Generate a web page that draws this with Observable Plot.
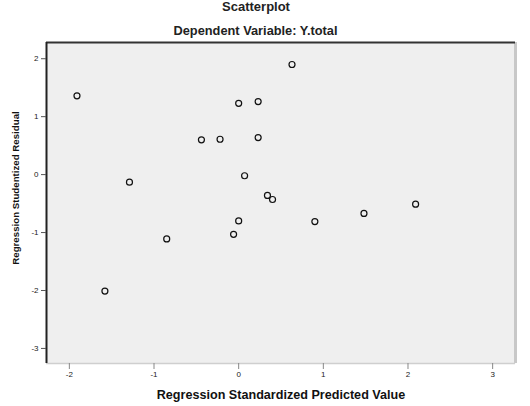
<!DOCTYPE html>
<html>
<head>
<meta charset="utf-8">
<script src="https://cdn.jsdelivr.net/npm/d3@7"></script>
<script src="https://cdn.jsdelivr.net/npm/@observablehq/plot@0.6"></script>
<style>
  html, body { margin: 0; padding: 0; background: #fff; }
  #wrap { width: 530px; height: 406px; position: relative; font-family: "Liberation Sans", Arial, sans-serif; color: #111; }
  #head { position: relative; height: 38px; width: 530px; }
  #title { position: absolute; left: 0; top: 0; width: 512px; text-align: center; font-size: 13px; font-weight: bold; line-height: 14px; color: #222; }
  #subtitle { position: absolute; left: 0; top: 24px; width: 511px; text-align: center; font-size: 12.8px; font-weight: bold; line-height: 14px; color: #222; }
  svg { display: block; }
</style>
</head>
<body>
<div id="wrap">
  <div id="head">
    <div id="title">Scatterplot</div>
    <div id="subtitle">Dependent Variable: Y.total</div>
  </div>
  <div id="chart"></div>
</div>
<script>
// Regression standardized predicted value (x) and studentized residual (y)
const predicted = [-1.91, 0.63, 0.00, 0.23, -0.44, -0.22, 0.23, -1.29, 0.07, 0.34, 0.40, 0.00, -0.06, -0.85, 0.90, 1.48, 2.09, -1.58];
const residual  = [1.36, 1.90, 1.23, 1.26, 0.60, 0.61, 0.64, -0.13, -0.02, -0.36, -0.43, -0.80, -1.03, -1.11, -0.81, -0.67, -0.51, -2.01];
const xTicks = [-2, -1, 0, 1, 2, 3];
const yTicks = [2, 1, 0, -1, -2, -3];
const xDomain = [-2.27, 3.27];
const yDomain = [-3.26, 2.28];
const xTitle = "Regression Standardized Predicted Value";
const yTitle = "Regression Studentized Residual";

const points = predicted.map((x, i) => ({x, y: residual[i]}));
const fmt = d => String(d);

const chart = Plot.plot({
  width: 530,
  height: 368,
  marginTop: 4,
  marginBottom: 43,
  marginLeft: 46,
  marginRight: 15,
  style: {fontFamily: "Liberation Sans, Arial, sans-serif", fontSize: "8px", background: "transparent", overflow: "visible"},
  x: {domain: xDomain},
  y: {domain: yDomain},
  marks: [
    Plot.frame({fill: "#efefef", stroke: null}),
    Plot.ruleX([xDomain[1]], {stroke: "#c8c8c8", strokeWidth: 3}),
    Plot.ruleY([yDomain[0]], {stroke: "#cfcfcf", strokeWidth: 1.5}),
    Plot.ruleY([yDomain[1]], {stroke: "#333", strokeWidth: 2}),
    Plot.ruleX([xDomain[0]], {stroke: "#222", strokeWidth: 2}),
    Plot.axisX(xTicks, {tickSize: 6, stroke: "#888", fill: "#222", tickFormat: fmt, tickPadding: 2, label: null}),
    Plot.axisY(yTicks, {tickSize: 5, stroke: "#555", fill: "#222", tickFormat: fmt, tickPadding: 3, label: null}),
    Plot.dot(points, {x: "x", y: "y", r: 3, stroke: "#111", strokeWidth: 1.2, fill: "none"}),
    Plot.text([xTitle], {frameAnchor: "bottom", textAnchor: "middle", dy: 35, fontWeight: "bold", fontSize: 12.6, fill: "#111"}),
    Plot.text([yTitle], {frameAnchor: "left", textAnchor: "middle", rotate: -90, dx: -31, dy: -15, fontWeight: "bold", fontSize: 9.7, fill: "#111"})
  ]
});
document.getElementById("chart").appendChild(chart);
</script>
</body>
</html>
